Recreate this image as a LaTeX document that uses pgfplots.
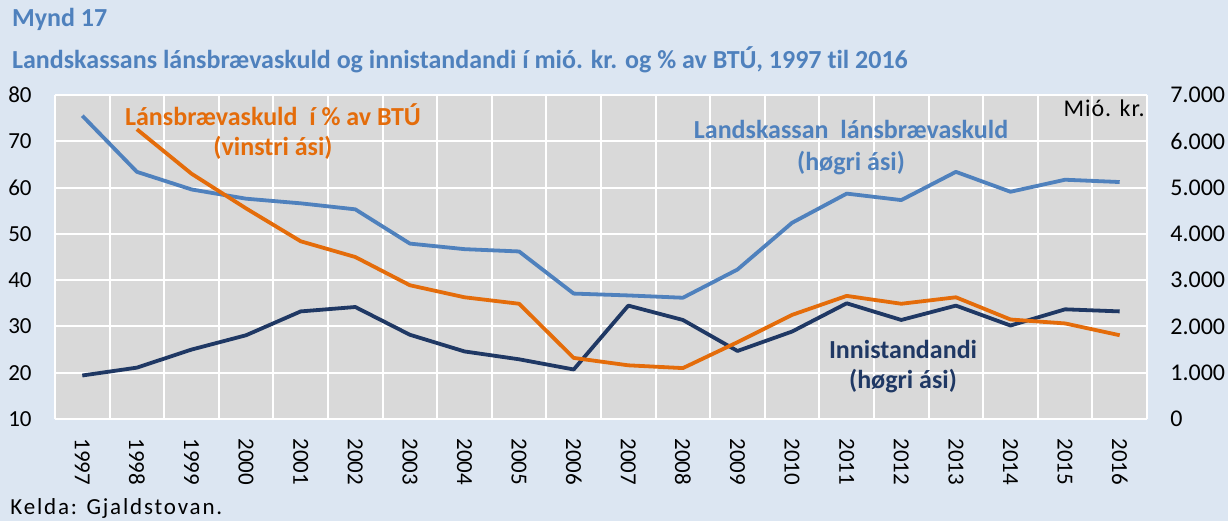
\documentclass[border=0pt]{standalone}
\usepackage{pgfplots}
\pgfplotsset{compat=1.18}
\usepackage{fontspec}
\setmainfont[Ligatures={NoCommon}]{Carlito}
\definecolor{bgc}{HTML}{DCE6F2}
\definecolor{plotbg}{HTML}{D9D9D9}
\definecolor{cblue}{HTML}{4F81BD}
\definecolor{corange}{HTML}{E46C0A}
\definecolor{cnavy}{HTML}{1F3864}
\definecolor{ctitle}{HTML}{4F81BD}

\pgfplotstableread{
x val
0 6553
1 5340
2 4960
3 4760
4 4660
5 4530
6 3790
7 3670
8 3620
9 2710
10 2670
11 2620
12 3230
13 4240
14 4870
15 4730
16 5340
17 4910
18 5170
19 5120
}\bluedata

\pgfplotstableread{
x val
0 940
1 1110
2 1500
3 1810
4 2325
5 2420
6 1820
7 1460
8 1290
9 1070
10 2450
11 2140
12 1470
13 1890
14 2500
15 2140
16 2450
17 2020
18 2370
19 2325
}\navydata

\pgfplotstableread{
x val
1 72.6
2 63.0
3 55.5
4 48.4
5 45.0
6 38.9
7 36.3
8 34.9
9 23.2
10 21.6
11 21.0
12 26.6
13 32.5
14 36.6
15 34.9
16 36.3
17 31.5
18 30.65
19 28.1
}\orangedata

\begin{document}
\begin{tikzpicture}
\fill[bgc] (0,0) rectangle (614pt,-260.5pt);

\begin{axis}[
  at={(27.5pt,-209.5pt)}, anchor=south west,
  scale only axis, width=546pt, height=162pt,
  xmin=-0.5, xmax=19.5, ymin=0, ymax=7000,
  axis background/.style={fill=plotbg},
  axis line style={draw=none},
  major tick length=0pt, minor tick length=0pt,
  xtick={0,...,19},
  xticklabels={1997,1998,1999,2000,2001,2002,2003,2004,2005,2006,2007,2008,2009,2010,2011,2012,2013,2014,2015,2016},
  minor xtick={-0.5,0.5,...,19.5},
  xminorgrids=true, xmajorgrids=false, ymajorgrids=true,
  grid style={white, line width=1pt},
  minor grid style={white, line width=1pt},
  ytick={0,1000,...,7000},
  yticklabel pos=right,
  scaled y ticks=false,
  /pgf/number format/.cd, 1000 sep={.}, assume math mode=true,
  /pgfplots/.cd,
  tick label style={font=\fontsize{11.5}{13}\selectfont, inner sep=0pt},
  yticklabel style={anchor=west, font=\fontsize{12}{13}\selectfont},
  yticklabel shift=11.5pt,
  xticklabel style={rotate=-90, anchor=west},
  xticklabel shift=9.5pt,
  clip=false,
]
\addplot[cblue, line width=1.9pt, line join=round] table[x=x,y=val] {\bluedata};
\addplot[cnavy, line width=1.9pt, line join=round] table[x=x,y=val] {\navydata};
\end{axis}

\begin{axis}[
  at={(27.5pt,-209.5pt)}, anchor=south west,
  scale only axis, width=546pt, height=162pt,
  xmin=-0.5, xmax=19.5, ymin=10, ymax=80,
  axis line style={draw=none},
  major tick length=0pt, minor tick length=0pt,
  xtick=\empty,
  ytick={10,20,...,80},
  /pgf/number format/.cd, assume math mode=true,
  /pgfplots/.cd,
  tick label style={font=\fontsize{11.5}{13}\selectfont, inner sep=0pt},
  yticklabel style={anchor=east},
  yticklabel shift=11.5pt,
  clip=false,
]
\addplot[corange, line width=1.9pt, line join=round] table[x=x,y=val] {\orangedata};
\end{axis}

\node[anchor=base west, inner sep=0pt, text=ctitle, font=\fontsize{13}{15}\selectfont\bfseries] at (5.85pt,-13.35pt) {Mynd 17};
\node[anchor=base west, inner sep=0pt, text=ctitle, font=\fontsize{13}{15}\selectfont\bfseries] at (5.85pt,-34.2pt) {Landskassans lánsbrævaskuld og innistandandi í mió. kr. og \% av BTÚ, 1997 til 2016};
\node[anchor=base west, inner sep=0pt, font=\fontsize{11.5}{13}\selectfont\addfontfeature{LetterSpace=8}] at (5pt,-257pt) {Kelda: Gjaldstovan.};
\node[anchor=base east, inner sep=0pt, font=\fontsize{12}{14}\selectfont\addfontfeature{LetterSpace=4}] at (572.5pt,-58pt) {Mió. kr.};

\node[anchor=base, inner sep=0pt, text=corange, font=\fontsize{13}{15}\selectfont\bfseries] at (136.5pt,-62.5pt) {Lánsbrævaskuld\ \ í \% av BTÚ};
\node[anchor=base, inner sep=0pt, text=corange, font=\fontsize{13}{15}\selectfont\bfseries] at (136.5pt,-77.5pt) {(vinstri ási)};
\node[anchor=base, inner sep=0pt, text=cblue, font=\fontsize{13}{15}\selectfont\bfseries] at (425.5pt,-69pt) {Landskassan\ \ lánsbrævaskuld};
\node[anchor=base, inner sep=0pt, text=cblue, font=\fontsize{13}{15}\selectfont\bfseries] at (425.5pt,-85pt) {(høgri ási)};
\node[anchor=base, inner sep=0pt, text=cnavy, font=\fontsize{13}{15}\selectfont\bfseries] at (451.5pt,-179pt) {Innistandandi};
\node[anchor=base, inner sep=0pt, text=cnavy, font=\fontsize{13}{15}\selectfont\bfseries] at (451.5pt,-194pt) {(høgri ási)};
\end{tikzpicture}
\end{document}
